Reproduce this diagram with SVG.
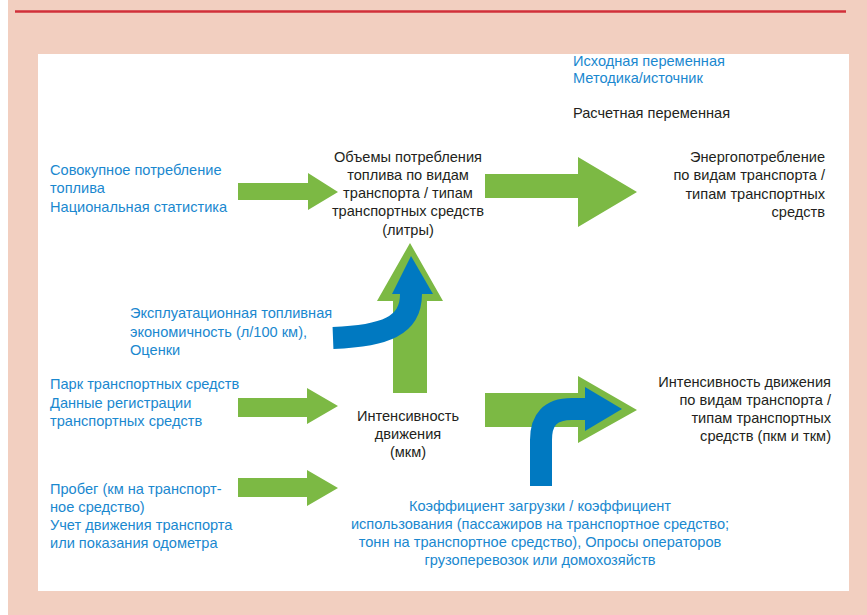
<svg xmlns="http://www.w3.org/2000/svg" width="867" height="615" viewBox="0 0 867 615">
  <style>
    text { font-family: "Liberation Sans", Arial, sans-serif; font-size: 14.6px; }
    .src { fill: #1a88cf; }
    .calc { fill: #231f20; }
    .mid { text-anchor: middle; }
    .end { text-anchor: end; }
    .green { fill: #7cb944; }
    .blue { fill: #0079c1; }
    .bluestroke { fill: none; stroke: #0079c1; stroke-width: 22; }
  </style>

  <!-- page frame -->
  <rect x="0" y="0" width="867" height="615" fill="#ffffff"/>
  <rect x="8" y="0" width="859" height="615" fill="#f2cfc0"/>
  <line x1="15" y1="11.5" x2="846" y2="11.5" stroke="#d1303a" stroke-width="2.5"/>
  <rect x="38" y="54" width="811" height="537" fill="#ffffff"/>

  <!-- legend -->
  <g id="legend">
    <text class="src" x="573" y="66">Исходная переменная</text>
    <text class="src" x="573" y="83">Методика/источник</text>
    <text class="calc" x="573" y="118">Расчетная переменная</text>
  </g>

  <!-- connectors -->
  <g id="connectors">
    <polygon class="green" points="238,183 308,183 308,173 338,192 308,210 308,200 238,200"/>
    <polygon class="green" points="485,174 578,174 578,157 637,192 578,227 578,198 485,198"/>
    <polygon class="green" points="393,393 393,301 377,301 410,243 443,301 427,301 427,393"/>
    <polygon class="green" points="238,398 307,398 307,388 338,406 307,424 307,417 238,417"/>
    <polygon class="green" points="238,478 307,478 307,470 338,488 307,506 307,497 238,497"/>
    <polygon class="green" points="485,393 578,393 578,376 637,410 578,443 578,427 485,427"/>

    <!-- fuel economy feeding fuel volumes -->
    <path class="bluestroke" d="M333,338 C385,336 411,326 411,294"/>
    <polygon class="blue" points="392,294 433,294 411,256"/>

    <!-- load factor feeding traffic activity -->
    <path class="bluestroke" d="M541,486 L541,440 C541,420 550,409 572,409 L588,409"/>
    <polygon class="blue" points="585,387 585,431 622,409"/>
  </g>

  <!-- nodes -->
  <g id="total-fuel">
    <text class="src" x="50" y="175">Совокупное потребление</text>
    <text class="src" x="50" y="193">топлива</text>
    <text class="src" x="50" y="212">Национальная статистика</text>
  </g>

  <g id="fuel-volumes">
    <text class="calc mid" x="408" y="162">Объемы потребления</text>
    <text class="calc mid" x="408" y="180">топлива по видам</text>
    <text class="calc mid" x="408" y="198">транспорта / типам</text>
    <text class="calc mid" x="408" y="216">транспортных средств</text>
    <text class="calc mid" x="408" y="235">(литры)</text>
  </g>

  <g id="energy-use">
    <text class="calc end" x="825" y="162">Энергопотребление</text>
    <text class="calc end" x="825" y="180">по видам транспорта /</text>
    <text class="calc end" x="825" y="199">типам транспортных</text>
    <text class="calc end" x="825" y="217">средств</text>
  </g>

  <g id="fuel-economy">
    <text class="src" x="130" y="318">Эксплуатационная топливная</text>
    <text class="src" x="130" y="337">экономичность (л/100 км),</text>
    <text class="src" x="130" y="355">Оценки</text>
  </g>

  <g id="vehicle-fleet">
    <text class="src" x="50" y="389">Парк транспортных средств</text>
    <text class="src" x="50" y="408">Данные регистрации</text>
    <text class="src" x="50" y="426">транспортных средств</text>
  </g>

  <g id="mileage">
    <text class="src" x="50" y="494">Пробег (км на транспорт-</text>
    <text class="src" x="50" y="512">ное средство)</text>
    <text class="src" x="50" y="530">Учет движения транспорта</text>
    <text class="src" x="50" y="548">или показания одометра</text>
  </g>

  <g id="vehicle-km">
    <text class="calc mid" x="408" y="421">Интенсивность</text>
    <text class="calc mid" x="408" y="439">движения</text>
    <text class="calc mid" x="408" y="457">(мкм)</text>
  </g>

  <g id="passenger-tonne-km">
    <text class="calc end" x="831" y="387">Интенсивность движения</text>
    <text class="calc end" x="831" y="405">по видам транспорта /</text>
    <text class="calc end" x="831" y="423">типам транспортных</text>
    <text class="calc end" x="831" y="441">средств (пкм и ткм)</text>
  </g>

  <g id="load-factor">
    <text class="src mid" x="540" y="511">Коэффициент загрузки / коэффициент</text>
    <text class="src mid" x="540" y="529">использования (пассажиров на транспортное средство;</text>
    <text class="src mid" x="540" y="547">тонн на транспортное средство), Опросы операторов</text>
    <text class="src mid" x="540" y="565">грузоперевозок или домохозяйств</text>
  </g>
</svg>
